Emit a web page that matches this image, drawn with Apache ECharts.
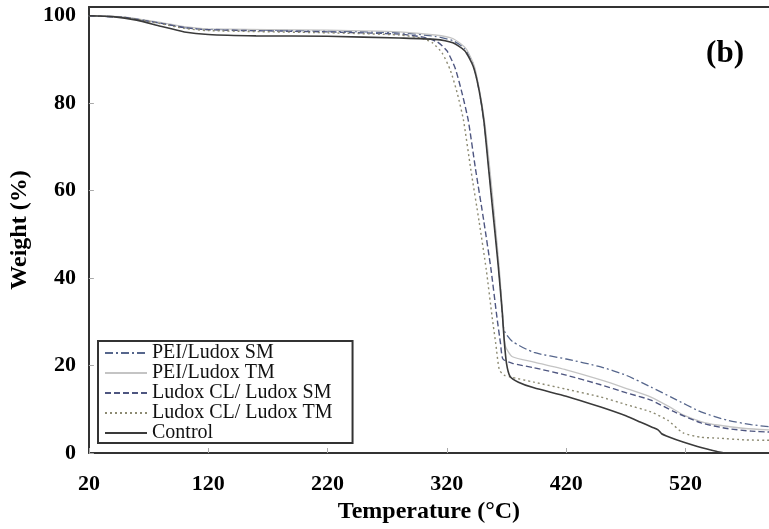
<!DOCTYPE html>
<html>
<head>
<meta charset="utf-8">
<script src="https://cdn.jsdelivr.net/npm/echarts@6/dist/echarts.min.js"></script>
<style>
  html, body { margin: 0; padding: 0; background: #fff; }
  #chart { width: 769px; height: 529px; }
</style>
</head>
<body>
<div id="chart"></div>
<script>
// TGA curves, temperature (°C) vs weight (%)
const pslT = [20, 50, 80, 100, 120, 220, 280, 310, 325, 335, 342, 347, 351, 355, 359, 363, 366, 368, 375, 393, 420, 449, 470, 491, 510, 533, 555, 575, 590];
const pslW = [100, 99.6, 98.3, 97.3, 96.9, 96.5, 96.1, 95.3, 94.3, 92.5, 89, 83, 76, 66, 55, 44, 34, 28, 25.5, 23, 21.5, 19.7, 17.8, 15.1, 12.5, 9.4, 7.5, 6.5, 6];

const pltT = [20, 50, 80, 100, 120, 220, 280, 310, 325, 336, 343, 348, 352, 356, 360, 364, 367, 369, 375, 393, 420, 449, 470, 491, 507, 518, 533, 547, 570, 590];
const pltW = [100, 99.7, 98.5, 97.5, 97, 96.7, 96.3, 95.6, 94.8, 92.5, 88.5, 82, 75, 65, 54, 42, 31, 24.5, 22, 20.8, 19, 16.7, 14.8, 12.8, 10.5, 8.7, 7.2, 6.4, 5.6, 5.3];

const clsT = [20, 50, 80, 100, 120, 220, 280, 300, 312, 320, 327, 333, 338, 344, 351, 357, 362, 365, 367, 375, 393, 420, 449, 470, 491, 510, 533, 555, 575, 590];
const clsW = [100, 99.6, 98.3, 97.3, 96.8, 96.3, 95.8, 95.1, 94, 92, 88, 82, 76, 65, 53, 42, 31, 25, 21.5, 20.5, 19.5, 17.8, 15.6, 13.8, 12.1, 9.5, 6.9, 5.6, 5, 4.8];

const cltT = [20, 50, 80, 100, 120, 220, 280, 300, 308, 316, 323, 329, 334, 340, 347, 353, 358, 361, 364, 368, 373, 393, 420, 449, 470, 491, 505, 518, 533, 547, 570, 590];
const cltW = [100, 99.6, 98.2, 97.1, 96.6, 96.1, 95.6, 94.8, 93.8, 91.5, 87.5, 82, 76, 65, 53, 42, 31, 25, 19, 17.8, 17.4, 16.2, 14.6, 12.8, 11.1, 9.4, 7.5, 4.6, 3.6, 3.4, 3, 2.9];

const ctrlT = [20, 40, 60, 80, 100, 120, 160, 220, 280, 310, 325, 335, 342, 347, 351, 355, 359, 363, 366.5, 368, 370, 373, 380, 393, 420, 449, 470, 482, 492, 497, 500, 504, 518, 530, 538, 547, 555, 590];
const ctrlW = [100, 99.8, 99, 97.6, 96.3, 95.7, 95.4, 95.3, 94.9, 94.6, 93.8, 92, 88.5, 83, 76, 65, 54, 43, 32, 26, 20.5, 17.5, 16.2, 14.9, 13, 10.5, 8.5, 7.1, 5.9, 5.3, 4.4, 3.9, 2.5, 1.5, 0.9, 0.3, 0, 0];

const names = ['PEI/Ludox SM', 'PEI/Ludox TM', 'Ludox CL/ Ludox SM', 'Ludox CL/ Ludox TM', 'Control'];

function zip(t, w) {
  return t.map((v, i) => [v, w[i]]);
}

const serif = 'Liberation Serif';

let myChart = echarts.init(document.getElementById('chart'), null, { renderer: 'canvas' });

function line(name, t, w, color, width, type) {
  return {
    name: name,
    type: 'line',
    data: zip(t, w),
    symbol: 'none',
    showSymbol: false,
    smooth: 0.2,
    animation: false,
    lineStyle: { color: color, width: width, type: type },
    itemStyle: { color: color }
  };
}

let option = {
  backgroundColor: '#fff',
  title: {
    text: '(b)',
    right: 20,
    top: 33,
    textStyle: { fontFamily: serif, fontSize: 31, fontWeight: 'bold', color: '#000' }
  },
  grid: {
    left: 87,
    top: 7,
    bottom: 76,
    right: 0
  },
  legend: {
    orient: 'vertical',
    left: 98,
    top: 341,
    data: names,
    itemWidth: 42,
    itemHeight: 14,
    itemGap: 0,
    padding: [2, 20, 0, 6],
    borderColor: '#333',
    borderWidth: 2,
    borderRadius: 0,
    itemStyle: { opacity: 0 },
    textStyle: { fontFamily: serif, fontSize: 20, lineHeight: 18, color: '#111' }
  },
  xAxis: [{
    type: 'value',
    min: 20,
    max: 590,
    interval: 100,
    name: 'Temperature (°C)',
    nameLocation: 'middle',
    nameGap: 45,
    nameTextStyle: { fontFamily: serif, fontSize: 24, fontWeight: 'bold', color: '#000' },
    axisLine: { lineStyle: { color: '#333', width: 2 } },
    axisTick: { inside: true, length: 5, lineStyle: { color: '#aaa' } },
    axisLabel: { margin: 20, showMaxLabel: false, fontFamily: serif, fontSize: 22, fontWeight: 'bold', color: '#000' },
    splitLine: { show: false }
  }, {
    type: 'value',
    position: 'top',
    min: 20,
    max: 590,
    axisLine: { show: true, lineStyle: { color: '#333', width: 2 } },
    axisTick: { show: false },
    axisLabel: { show: false },
    splitLine: { show: false }
  }],
  yAxis: {
    type: 'value',
    min: 0,
    max: 102,
    interval: 20,
    name: 'Weight (%)',
    nameLocation: 'middle',
    nameRotate: 90,
    nameGap: 53,
    nameTextStyle: { fontFamily: serif, fontSize: 24, fontWeight: 'bold', color: '#000' },
    axisLine: { lineStyle: { color: '#333', width: 2 } },
    axisTick: { inside: true, length: 5, lineStyle: { color: '#aaa' } },
    axisLabel: { margin: 13, showMaxLabel: false, fontFamily: serif, fontSize: 22, fontWeight: 'bold', color: '#000' },
    splitLine: { show: false }
  },
  series: [
    line(names[0], pslT, pslW, '#56668c', 1.3, [8, 3, 2, 3]),
    line(names[1], pltT, pltW, '#c4c4c4', 1.3, 'solid'),
    line(names[2], clsT, clsW, '#4e5680', 1.4, [6, 3]),
    line(names[3], cltT, cltW, '#8c8a72', 1.4, [2, 3]),
    line(names[4], ctrlT, ctrlW, '#3a3a3a', 1.6, 'solid')
  ]
};

myChart.setOption(option, true);
</script>
</body>
</html>
